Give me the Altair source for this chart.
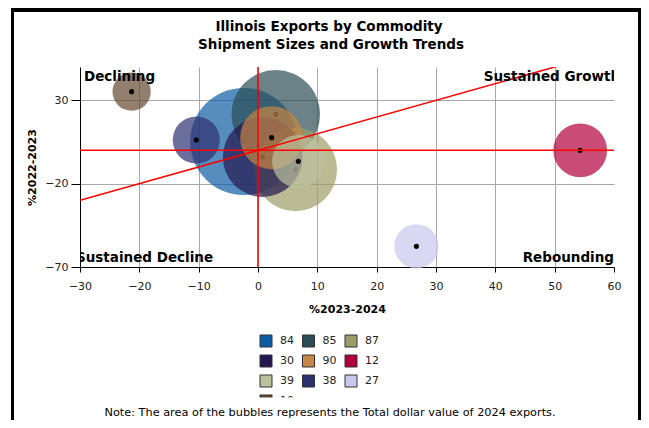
import altair as alt
import pandas as pd

# ---- data ----
codes = ["84", "85", "87", "30", "90", "12", "39", "38", "27", "10"]
growth_2023_2024 = [-2.4, 3.0, 6.3, 0.8, 2.3, 54.3, 6.8, -10.4, 26.7, -21.3]
growth_2022_2023 = [5.3, 21.6, -11.5, -4.0, 7.6, 0.0, -6.6, 6.2, -57.6, 35.2]
export_value_2024 = [13.5, 9.22, 8.15, 7.47, 4.65, 3.4, 3.25, 2.61, 2.31, 1.72]
colors = ["#0b5ca3", "#2b4d55", "#9c9c68", "#24174f", "#c68645",
          "#b0003a", "#bcc09c", "#2e3170", "#c8c8ec", "#644830"]

x_ticks = [-30, -20, -10, 0, 10, 20, 30, 40, 50, 60]
y_ticks = [-70, -20, 30]
x_domain = [-30, 60]
y_domain = [-70, 50]

ref_zero = [0]
diag_x = [-30, 60]
diag_y = [-30, 60]

quad_text = ["Declining", "Sustained Growth", "Sustained Decline", "Rebounding"]
quad_x = [-30, 60, -30, 60]
quad_y = [50, 50, -70, -70]

title_lines = ["Illinois Exports by Commodity", "Shipment Sizes and Growth Trends"]
note_text = "Note: The area of the bubbles represents the Total dollar value  of 2024 exports."

df = pd.DataFrame({
    "code": codes,
    "g2324": growth_2023_2024,
    "g2223": growth_2022_2023,
    "value": export_value_2024,
})
leg_df = pd.DataFrame({
    "code": codes,
    "col": [i % 3 for i in range(len(codes))],
    "row": [i // 3 for i in range(len(codes))],
})

FONT = "DejaVu Sans"

xscale = alt.Scale(domain=x_domain, nice=False, zero=False)
yscale = alt.Scale(domain=y_domain, nice=False, zero=False)
cscale = alt.Scale(domain=codes, range=colors)
sscale = alt.Scale(type="linear", domain=[0, max(export_value_2024)], range=[0, 11500])

x_axis = alt.Axis(values=x_ticks, title="%2023-2024", grid=True, labelFlush=False,
                  gridOpacity={"condition": {"test": "datum.value === 60", "value": 0}, "value": 1},
                  tickSize=5, labelPadding=8, titlePadding=12)
y_axis = alt.Axis(values=y_ticks, title="%2022-2023", grid=True, labelFlush=False,
                  tickSize=9, labelPadding=3, titlePadding=7)

X = alt.X("g2324:Q", scale=xscale, axis=x_axis)
Y = alt.Y("g2223:Q", scale=yscale, axis=y_axis)
C = alt.Color("code:N", scale=cscale, legend=None)
S = alt.Size("value:Q", scale=sscale, legend=None)

layers = []
for c in codes:
    base = alt.Chart(df).transform_filter(alt.datum.code == c)
    layers.append(base.mark_circle(opacity=0.7).encode(x=X, y=Y, color=C, size=S))
    layers.append(base.mark_circle(color="black", opacity=1, size=26).encode(x=X, y=Y))

hline = alt.Chart(pd.DataFrame({"v": ref_zero})).mark_rule(color="red", strokeWidth=1.5).encode(
    y=alt.Y("v:Q", scale=yscale, axis=y_axis))
vline = alt.Chart(pd.DataFrame({"v": ref_zero})).mark_rule(color="red", strokeWidth=1.5).encode(
    x=alt.X("v:Q", scale=xscale, axis=x_axis))
diag = alt.Chart(pd.DataFrame({"g2324": diag_x, "g2223": diag_y})).mark_line(
    color="red", strokeWidth=1.5, clip=True).encode(x=X, y=Y)

qdf = pd.DataFrame({"t": quad_text, "g2324": quad_x, "g2223": quad_y})
qspecs = [
    dict(align="left", baseline="top", dx=4, dy=3),
    dict(align="right", baseline="top", dx=6, dy=3),
    dict(align="left", baseline="bottom", dx=-4, dy=-2),
    dict(align="right", baseline="bottom", dx=0, dy=-2),
]
qlayers = []
for t, spec in zip(quad_text, qspecs):
    qlayers.append(
        alt.Chart(qdf).transform_filter(alt.datum.t == t).mark_text(
            font=FONT, fontSize=13.5, fontWeight="bold", color="black", clip=True, **spec
        ).encode(x=X, y=Y, text="t:N")
    )

main = alt.layer(*layers, hline, vline, diag, *qlayers)

LX = alt.X("col:Q", scale=alt.Scale(domain=[0, 2], range=[186, 271], nice=False, zero=False), axis=None)
LY = alt.Y("row:Q", scale=alt.Scale(domain=[0, 3], range=[274, 334], nice=False, zero=False), axis=None)
leg_sq = alt.Chart(leg_df).mark_square(size=144, opacity=1, stroke="#333", strokeWidth=1).encode(
    x=LX, y=LY, color=C)
leg_txt = alt.Chart(leg_df).mark_text(align="left", baseline="middle", dx=14, font=FONT,
                                      fontSize=11, color="#222").encode(x=LX, y=LY, text="code:N")
legend = alt.layer(leg_sq, leg_txt)

cover = alt.Chart().mark_rect(color="white").encode(
    x=alt.value(160), x2=alt.value(330), y=alt.value(330.5), y2=alt.value(341))
note = alt.Chart().mark_text(text=note_text, font=FONT, fontSize=11.3, color="black",
                             align="center", baseline="middle").encode(
    x=alt.value(250), y=alt.value(346))
title1 = alt.Chart().mark_text(text=title_lines[0], font=FONT, fontSize=13.5, fontWeight="bold",
                               color="black", align="center", baseline="middle").encode(
    x=alt.value(249), y=alt.value(-40))
title2 = alt.Chart().mark_text(text=title_lines[1], font=FONT, fontSize=13.5, fontWeight="bold",
                               color="black", align="center", baseline="middle").encode(
    x=alt.value(251), y=alt.value(-22))
frame_l = alt.Chart().mark_rect(color="black").encode(
    x=alt.value(-69), x2=alt.value(-66), y=alt.value(-59), y2=alt.value(353))
frame_r = alt.Chart().mark_rect(color="black").encode(
    x=alt.value(558), x2=alt.value(561), y=alt.value(-59), y2=alt.value(353))
frame_t = alt.Chart().mark_rect(color="black").encode(
    x=alt.value(-66), x2=alt.value(558), y=alt.value(-59), y2=alt.value(-55))

chart = alt.layer(main, legend, cover, note, title1, title2, frame_l, frame_r, frame_t).resolve_scale(
    x="independent", y="independent"
).properties(
    width=534, height=200,
    autosize=alt.AutoSizeParams(type="none"),
    padding={"left": 72, "top": 59, "right": 27, "bottom": 153},
).configure_view(stroke=None).configure_axis(
    labelFont=FONT, labelFontSize=11, labelColor="#222",
    titleFont=FONT, titleFontSize=11, titleFontWeight="bold", titleColor="black",
    domainColor="black", tickColor="black", gridColor="#a8a8a8", gridWidth=1,
)

chart.save("out.html", embed_options={"renderer": "svg", "actions": False})
